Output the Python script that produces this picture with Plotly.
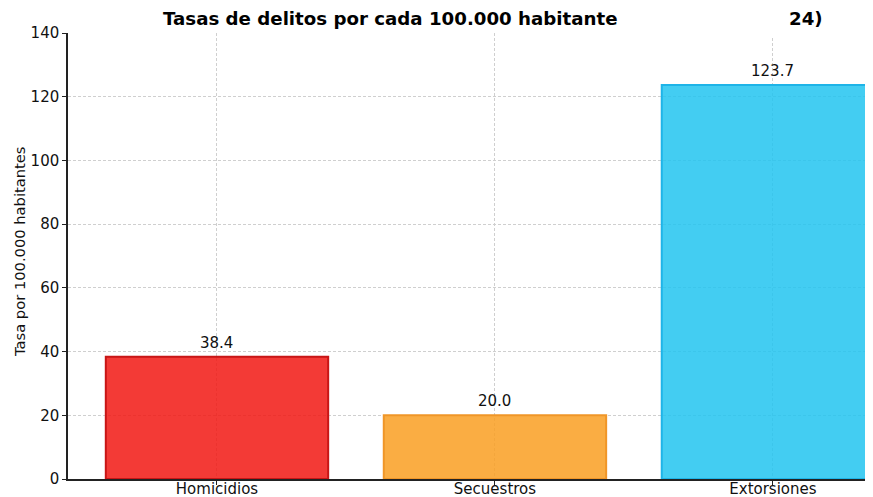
import plotly.graph_objects as go

categories = ["Homicidios", "Secuestros", "Extorsiones"]
values = [38.4, 20.0, 123.7]
value_labels = ["38.4", "20.0", "123.7"]
y_ticks = [0, 20, 40, 60, 80, 100, 120, 140]
title_left = "Tasas de delitos por cada 100.000 habitante"
title_right = "24)"
y_title = "Tasa por 100.000 habitantes"

fill_colors = ["rgba(241,23,19,0.85)", "rgba(249,159,34,0.85)", "rgba(34,196,240,0.85)"]
edge_colors = ["rgb(200,22,22)", "rgb(240,150,40)", "rgb(30,180,232)"]

# page offset of the plotly div (default body margin)
OFF = 8
PAGE_W, PAGE_H = 873, 497
W, H = PAGE_W - OFF, PAGE_H - OFF
# desired plot area in page pixels: x 68..873, y 33..479
ML, MR, MT, MB = 68 - OFF, 0, 33 - OFF, PAGE_H - 479
pw = W - ML - MR
ph = H - MT - MB

def px_x(p):  # page pixel -> paper x
    return (p - OFF - ML) / pw

def px_y(p):  # page pixel -> paper y
    return (H - MB - (p - OFF)) / ph

FONT = "DejaVu Sans"

fig = go.Figure()
fig.add_trace(go.Bar(
    x=categories, y=values, width=0.8,
    marker=dict(color=fill_colors, line=dict(color=edge_colors, width=2)),
    hoverinfo="skip",
))

annotations = []
for c, v, t in zip(categories, values, value_labels):
    annotations.append(dict(x=c, y=v, xref="x", yref="y", text=t, showarrow=False,
                            yanchor="bottom", yshift=3,
                            font=dict(family=FONT, size=15, color="#111111")))

annotations.append(dict(x=px_x(620), y=px_y(19), xref="paper", yref="paper",
                        text="<b>" + title_left + "</b>", showarrow=False,
                        xanchor="right", yanchor="middle",
                        font=dict(family=FONT, size=18.2, color="#000000")))
annotations.append(dict(x=px_x(787), y=px_y(19), xref="paper", yref="paper",
                        text="<b>" + title_right + "</b>", showarrow=False,
                        xanchor="left", yanchor="middle",
                        font=dict(family=FONT, size=18.2, color="#000000")))
annotations.append(dict(x=px_x(19), y=px_y(252), xref="paper", yref="paper",
                        text=y_title, showarrow=False, textangle=-90,
                        xanchor="center", yanchor="middle",
                        font=dict(family=FONT, size=14.7, color="#111111")))

# white patch hiding part of the title area (as in the reference image)
shapes = [dict(type="rect", xref="paper", yref="paper",
               x0=px_x(621), x1=px_x(787), y0=px_y(37), y1=px_y(0),
               fillcolor="white", line=dict(width=0), layer="above")]

fig.update_layout(
    width=W, height=H,
    margin=dict(l=ML, r=MR, t=MT, b=MB, pad=0, autoexpand=False),
    paper_bgcolor="white", plot_bgcolor="white",
    showlegend=False,
    annotations=annotations,
    shapes=shapes,
    font=dict(family=FONT, size=14, color="#111111"),
    bargap=0.2,
)

grid = dict(showgrid=True, gridcolor="#cfcfcf", gridwidth=0.8, griddash="3px,2px")
fig.update_xaxes(
    type="category", range=[-0.536, 2.36], automargin=False,
    showline=True, linecolor="#222222", linewidth=1.5,
    ticks="outside", ticklen=4, tickcolor="#222222", tickwidth=1,
    ticklabelstandoff=-9,
    tickfont=dict(family=FONT, size=15, color="#111111"),
    zeroline=False, mirror=False, **grid,
)
fig.update_yaxes(
    range=[0, 140], tickvals=y_ticks, automargin=False,
    showline=True, linecolor="#222222", linewidth=1.5,
    ticks="outside", ticklen=4, tickcolor="#222222", tickwidth=1,
    tickfont=dict(family=FONT, size=15, color="#111111"),
    zeroline=False, mirror=False, **grid,
)

fig.write_html("out.html")
